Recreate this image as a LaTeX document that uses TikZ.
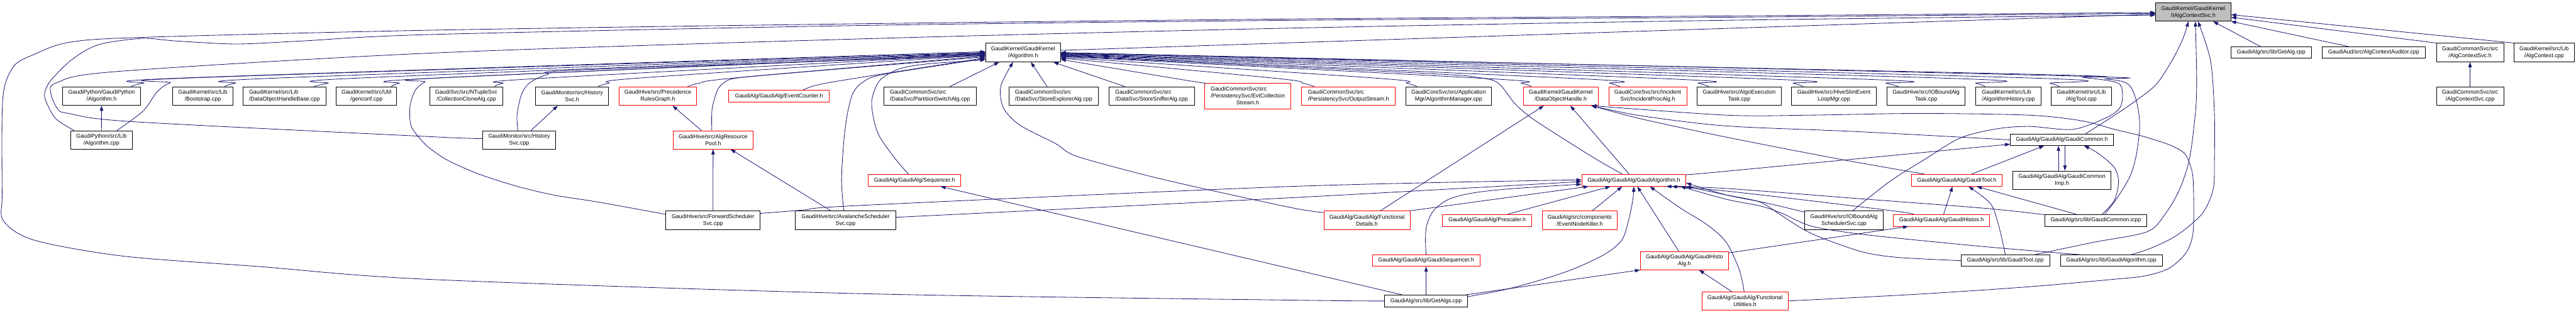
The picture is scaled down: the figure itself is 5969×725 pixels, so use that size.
\documentclass[tikz,border=0pt]{standalone}
\usepackage{fontspec}
\setmainfont{Liberation Sans}
\usetikzlibrary{arrows.meta}
\definecolor{edgeblue}{HTML}{191970}
\definecolor{rootgrey}{HTML}{BFBFBF}
\tikzset{
  nb/.style={draw=black, line width=1.2pt, fill=white, inner sep=0pt, align=center, font=\fontsize{13}{16}\selectfont},
  nr/.style={nb, draw=red},
  nl/.style={nb, align=left},
  nrl/.style={nr, align=left},
  dep/.style={draw=edgeblue, line width=1.2pt, -{Triangle[length=12pt,width=8pt]}},
}
\begin{document}
\begin{tikzpicture}[x=1pt,y=-1pt]
\useasboundingbox (0,0) rectangle (5969,725);
% ---------------- nodes ----------------
\node[nb, fill=rootgrey, minimum width=174pt, minimum height=42pt] (R) at (5082,28) {GaudiKernel/GaudiKernel\\/IAlgContextSvc.h};
% row 1
\node[nb, minimum width=173pt, minimum height=43pt] (A) at (2370.5,121.8) {GaudiKernel/GaudiKernel\\/Algorithm.h};
\node[nb, minimum width=185.6pt, minimum height=27pt] (GetAlg) at (5262.7,121.8) {GaudiAlg/src/lib/GetAlg.cpp};
\node[nb, minimum width=240pt, minimum height=27pt] (AlgCtxAud) at (5500.2,121.8) {GaudiAud/src/AlgContextAuditor.cpp};
\node[nb, minimum width=155.6pt, minimum height=43pt] (AlgCtxSvcH) at (5723.5,121.8) {GaudiCommonSvc/src\\/AlgContextSvc.h};
\node[nb, minimum width=139pt, minimum height=43pt] (AlgCtxCpp) at (5895,121.8) {GaudiKernel/src/Lib\\/AlgContext.cpp};
% row 2
\node[nb, minimum width=155.6pt, minimum height=43pt] (AlgCtxSvcCpp) at (5723.5,222.8) {GaudiCommonSvc/src\\/AlgContextSvc.cpp};
\node[nb, minimum width=180pt, minimum height=43pt] (PyAlgH) at (235.4,222.8) {GaudiPython/GaudiPython\\/Algorithm.h};
\node[nb, minimum width=139pt, minimum height=43pt] (Bootstrap) at (470,222.8) {GaudiKernel/src/Lib\\/Bootstrap.cpp};
\node[nl, minimum width=192pt, minimum height=43pt] (DOHB) at (659.1,222.8) {GaudiKernel/src/Lib\\/DataObjectHandleBase.cpp};
\node[nb, minimum width=139.7pt, minimum height=43pt] (genconf) at (849.2,222.8) {GaudiKernel/src/Util\\/genconf.cpp};
\node[nb, minimum width=169.7pt, minimum height=43pt] (CollClone) at (1080.4,222.8) {GaudiSvc/src/NTupleSvc\\/CollectionCloneAlg.cpp};
\node[nb, minimum width=169pt, minimum height=43pt] (HistSvcH) at (1325.6,222.8) {GaudiMonitor/src/History\\Svc.h};
\node[nr, minimum width=180pt, minimum height=43pt] (PrecRules) at (1524.3,222.8) {GaudiHive/src/Precedence\\RulesGraph.h};
\node[nr, minimum width=232.8pt, minimum height=27.7pt] (EventCounter) at (1805.2,222.8) {GaudiAlg/GaudiAlg/EventCounter.h};
\node[nl, minimum width=214.3pt, minimum height=43pt] (PartSwitch) at (2155,222.8) {GaudiCommonSvc/src\\/DataSvc/PartitionSwitchAlg.cpp};
\node[nl, minimum width=208pt, minimum height=43pt] (StoreExplorer) at (2441.4,222.8) {GaudiCommonSvc/src\\/DataSvc/StoreExplorerAlg.cpp};
\node[nl, minimum width=197.7pt, minimum height=43pt] (StoreSniffer) at (2668.4,222.8) {GaudiCommonSvc/src\\/DataSvc/StoreSnifferAlg.cpp};
\node[nr, minimum width=199.6pt, minimum height=59pt] (EvtCollStream) at (2891.3,222.8) {\begin{tabular}{@{}l@{}}GaudiCommonSvc/src\\/PersistencySvc/EvtCollection\\\multicolumn{1}{@{}c@{}}{Stream.h}\end{tabular}};
\node[nrl, minimum width=218pt, minimum height=43pt] (OutputStream) at (3124.4,222.8) {GaudiCommonSvc/src\\/PersistencySvc/OutputStream.h};
\node[nb, minimum width=197.7pt, minimum height=43pt] (AlgManager) at (3356.6,222.8) {GaudiCoreSvc/src/Application\\Mgr/AlgorithmManager.cpp};
\node[nr, minimum width=174pt, minimum height=43pt] (DOH) at (3616.4,222.8) {GaudiKernel/GaudiKernel\\/DataObjectHandle.h};
\node[nr, minimum width=180.5pt, minimum height=43pt] (IncidentProc) at (3818,222.8) {GaudiCoreSvc/src/Incident\\Svc/IncidentProcAlg.h};
\node[nb, minimum width=195.2pt, minimum height=43pt] (AlgoExecTask) at (4030,222.8) {GaudiHive/src/AlgoExecution\\Task.cpp};
\node[nb, minimum width=196.5pt, minimum height=43pt] (HiveSlim) at (4249.4,222.8) {GaudiHive/src/HiveSlimEvent\\LoopMgr.cpp};
\node[nb, minimum width=181pt, minimum height=43pt] (IOBoundTask) at (4463,222.8) {GaudiHive/src/IOBoundAlg\\Task.cpp};
\node[nl, minimum width=151.8pt, minimum height=43pt] (AlgHistory) at (4653.7,222.8) {GaudiKernel/src/Lib\\/AlgorithmHistory.cpp};
\node[nb, minimum width=139pt, minimum height=43pt] (AlgToolCpp) at (4822.7,222.8) {GaudiKernel/src/Lib\\/AlgTool.cpp};
% row 3
\node[nb, minimum width=142.2pt, minimum height=42pt] (PyAlgCpp) at (235,324.3) {GaudiPython/src/Lib\\/Algorithm.cpp};
\node[nb, minimum width=169pt, minimum height=42pt] (HistSvcCpp) at (1203.1,324.3) {GaudiMonitor/src/History\\Svc.cpp};
\node[nr, minimum width=186.2pt, minimum height=42pt] (AlgResPool) at (1652.4,324.3) {GaudiHive/src/AlgResource\\Pool.h};
\node[nb, minimum width=239pt, minimum height=26pt] (GaudiCommonH) at (4777.8,324.3) {GaudiAlg/GaudiAlg/GaudiCommon.h};
% row 4
\node[nr, minimum width=215pt, minimum height=27.4pt] (Sequencer) at (2119,418) {GaudiAlg/GaudiAlg/Sequencer.h};
\node[nr, minimum width=241pt, minimum height=27.4pt] (GaudiAlgorithmH) at (3785.8,418) {GaudiAlg/GaudiAlg/GaudiAlgorithm.h};
\node[nr, minimum width=211pt, minimum height=27.4pt] (GaudiToolH) at (4534.2,418) {GaudiAlg/GaudiAlg/GaudiTool.h};
\node[nb, minimum width=227.7pt, minimum height=43pt] (GaudiCommonImp) at (4777.8,417.8) {GaudiAlg/GaudiAlg/GaudiCommon\\Imp.h};
% row 5
\node[nb, minimum width=218.8pt, minimum height=43pt] (ForwardSched) at (1652.1,510.8) {GaudiHive/src/ForwardScheduler\\Svc.cpp};
\node[nb, minimum width=232.2pt, minimum height=43pt] (AvalancheSched) at (1959.2,510.8) {GaudiHive/src/AvalancheScheduler\\Svc.cpp};
\node[nr, minimum width=199.6pt, minimum height=43pt] (FunctionalDetails) at (3167.4,510.8) {GaudiAlg/GaudiAlg/Functional\\Details.h};
\node[nr, minimum width=206.6pt, minimum height=27.4pt] (Prescaler) at (3445.8,510.8) {GaudiAlg/GaudiAlg/Prescaler.h};
\node[nr, minimum width=174pt, minimum height=43pt] (EventNodeKiller) at (3660.4,510.8) {GaudiAlg/src/components\\/EventNodeKiller.h};
\node[nb, minimum width=181.7pt, minimum height=43pt] (IOBoundSched) at (4272.7,510.8) {GaudiHive/src/IOBoundAlg\\SchedulerSvc.cpp};
\node[nr, minimum width=223.2pt, minimum height=27.4pt] (GaudiHistos) at (4498.7,510.8) {GaudiAlg/GaudiAlg/GaudiHistos.h};
\node[nb, minimum width=236.6pt, minimum height=27.4pt] (GaudiCommonIcpp) at (4856.2,510.8) {GaudiAlg/src/lib/GaudiCommon.icpp};
% row 6
\node[nr, minimum width=249.4pt, minimum height=26pt] (GaudiSequencer) at (3304.5,604.3) {GaudiAlg/GaudiAlg/GaudiSequencer.h};
\node[nr, minimum width=204pt, minimum height=42pt] (GaudiHistoAlg) at (3903,604.3) {GaudiAlg/GaudiAlg/GaudiHisto\\Alg.h};
\node[nb, minimum width=205.4pt, minimum height=26pt] (GaudiToolCpp) at (4646.7,604.3) {GaudiAlg/src/lib/GaudiTool.cpp};
\node[nb, minimum width=236.3pt, minimum height=26pt] (GaudiAlgorithmCpp) at (4892.3,604.3) {GaudiAlg/src/lib/GaudiAlgorithm.cpp};
% row 7
\node[nb, minimum width=192pt, minimum height=27pt] (GetAlgs) at (3304.5,697.8) {GaudiAlg/src/lib/GetAlgs.cpp};
\node[nr, minimum width=199pt, minimum height=42.7pt] (FunctionalUtilities) at (4043.4,697.8) {GaudiAlg/GaudiAlg/Functional\\Utilities.h};

% ---------------- edges into root ----------------
\draw[dep] ([yshift=5pt]A.east) -- ([yshift=-5pt]R.west);
\draw[dep] plot[smooth, tension=0.5] coordinates {(GetAlgs.west) (3000,696) (2000,681) (1000,648) (600,618) (287,594) (80,557) (8,512) (5,450) (5,260) (12,195) (35,150) (77,127) (156,99) (319,87) (1000,70) (2000,55) (3000,44) (4000,37) ([yshift=-1pt]R.west)};
\draw[dep] plot[smooth, tension=0.5] coordinates {([xshift=-63pt]PyAlgCpp.north) (131,277) (112,247) (103,220) (115,190) (156,147) (198,117) (242,100) (332,89) (408,95) (548,102) (700,95) (1000,80) (2000,59) (3000,47) (4000,40) ([yshift=-3pt]R.west)};
\draw[dep] plot[smooth, tension=0.5] coordinates {([yshift=3pt]HistSvcCpp.west) (1000,317) (306,282) (159,263) (134,253) (118,217) (131,192) (268,166) (1000,123) (2000,90) (3000,65) (4000,47) ([yshift=-7pt]R.west)};
\draw[dep] ([xshift=-25pt]GetAlg.north) -- ([xshift=46pt]R.south);
\draw[dep] ([xshift=-59pt]AlgCtxAud.north) -- (R.south east);
\draw[dep] (AlgCtxSvcH.north west) -- ([yshift=-12pt]R.east);
\draw[dep] (AlgCtxCpp.north west) -- ([yshift=-6pt]R.east);
\draw[dep] (AlgCtxSvcCpp) -- (AlgCtxSvcH);
\draw[dep] plot[smooth, tension=0.5] coordinates {([xshift=54pt]GaudiCommonH.north) (4880,280) (4940,240) (4995,197) (5033,140) (5058,90) ([xshift=-11pt]R.south)};
\draw[dep] plot[smooth, tension=0.5] coordinates {([xshift=67pt]GaudiToolCpp.north) (4850,562) (4976,537) (5020,492) (5049,442) (5068,390) (5078,340) (5088,250) (5090,180) ([xshift=5pt]R.south)};
\draw[dep] plot[smooth, tension=0.5] coordinates {([xshift=45pt]GaudiAlgorithmCpp.north) (4985,575) (5045,545) (5103,495) (5128,440) (5131,380) (5131,260) (5122,140) ([xshift=11pt]R.south)};

% ---------------- edges into Algorithm.h (left) ----------------
\draw[dep] plot[smooth, tension=0.5] coordinates {([xshift=68pt]PyAlgH.north) (332,193) (446,180) ([yshift=2pt]A.west)};
\draw[dep] plot[smooth, tension=0.5] coordinates {([xshift=36pt]PyAlgCpp.north) (332,257) (364,213) (395,192) (460,180) (A.west)};
\draw[dep] plot[smooth, tension=0.5] coordinates {([xshift=50pt]Bootstrap.north) (545,193) (640,181) ([yshift=-1pt]A.west)};
\draw[dep] plot[smooth, tension=0.5] coordinates {([xshift=68pt]DOHB.north) (760,193) (830,181) ([yshift=-2pt]A.west)};
\draw[dep] plot[smooth, tension=0.5] coordinates {([xshift=57pt]genconf.north) (925,193) (990,182) ([yshift=-3pt]A.west)};
\draw[dep] plot[smooth, tension=0.5] coordinates {([yshift=14pt]ForwardSched.west) (1383,468) (1287,453) (1198,432) (1108,403) (1038,372) (1000,347) (979,328) (953,293) (950,247) (962,210) (985,190) (1030,180) ([yshift=-4pt]A.west)};
\draw[dep] plot[smooth, tension=0.5] coordinates {([xshift=65pt]CollClone.north) (1165,193) (1230,183) ([yshift=-5pt]A.west)};
\draw[dep] plot[smooth, tension=0.5] coordinates {([xshift=60pt]HistSvcH.north) (1410,193) (1480,181) ([yshift=-6pt]A.west)};
\draw[dep] plot[smooth, tension=0.5] coordinates {([xshift=-3pt]HistSvcCpp.north) (1198,267) (1208,220) (1226,193) (1268,173) (1350,162) ([yshift=-7pt]A.west)};
\draw[dep] plot[smooth, tension=0.5] coordinates {([xshift=69pt]PrecRules.north) (1620,193) (1700,181) ([yshift=-8pt]A.west)};
\draw[dep] plot[smooth, tension=0.5] coordinates {([xshift=-3pt]AlgResPool.north) (1650,253) (1662,210) (1676,193) (1701,182) (1800,172) ([yshift=-10pt]A.west)};
\draw[dep] plot[smooth, tension=0.5] coordinates {([xshift=56pt]EventCounter.north) (1890,198) (1960,185) ([yshift=-12pt]A.west)};
\draw[dep] plot[smooth, tension=0.5] coordinates {([xshift=-4pt]AvalancheSched.north) (1950,420) (1955,330) (1963,267) (1976,217) (2000,190) (2050,172) ([yshift=-14pt]A.west)};
\draw[dep] plot[smooth, tension=0.5] coordinates {([xshift=-14pt]Sequencer.north) (2076,370) (2040,320) (2026,283) (2020,233) (2038,187) (2083,160) (2150,148) ([yshift=-17pt]A.west)};
\draw[dep] ([xshift=46pt]PartSwitch.north) -- ([xshift=-55pt]A.south);
\draw[dep] plot[smooth, tension=0.5] coordinates {([yshift=18pt]FunctionalDetails.west) (3000,483) (2800,440) (2650,405) (2494,362) (2446,333) (2363,290) (2325,250) (2319,200) ([xshift=-23pt]A.south)};
\draw[dep] ([xshift=-15pt]StoreExplorer.north) -- ([xshift=18pt]A.south);
\draw[dep] ([xshift=-62pt]StoreSniffer.north) -- ([xshift=70pt]A.south);

% ---------------- edges into Algorithm.h (right) ----------------
\draw[dep] plot[smooth, tension=0.5] coordinates {(EvtCollStream.north west) (2753,187) ([yshift=-16pt]A.east)};
\draw[dep] plot[smooth, tension=0.5] coordinates {([xshift=-79pt]OutputStream.north) (3020,193) (2960,182) ([yshift=-13pt]A.east)};
\draw[dep] plot[smooth, tension=0.5] coordinates {([xshift=-73pt]AlgManager.north) (3260,193) (3200,182) ([yshift=-11pt]A.east)};
\draw[dep] plot[smooth, tension=0.5] coordinates {([xshift=-68pt]DOH.north) (3525,193) (3460,183) ([yshift=-9pt]A.east)};
\draw[dep] plot[smooth, tension=0.5] coordinates {([xshift=-65pt]IncidentProc.north) (3730,193) (3670,183) ([yshift=-7pt]A.east)};
\draw[dep] plot[smooth, tension=0.5] coordinates {([xshift=-70pt]AlgoExecTask.north) (3935,193) (3870,183) ([yshift=-6pt]A.east)};
\draw[dep] plot[smooth, tension=0.5] coordinates {([xshift=-71pt]HiveSlim.north) (4155,193) (4090,183) ([yshift=-5pt]A.east)};
\draw[dep] plot[smooth, tension=0.5] coordinates {([xshift=-64pt]IOBoundTask.north) (4370,193) (4300,183) ([yshift=-4pt]A.east)};
\draw[dep] plot[smooth, tension=0.5] coordinates {([xshift=-54pt]AlgHistory.north) (4578,193) (4500,181) ([yshift=-3pt]A.east)};
\draw[dep] plot[smooth, tension=0.5] coordinates {([xshift=-51pt]AlgToolCpp.north) (4750,193) (4680,180) ([yshift=-1pt]A.east)};
\draw[dep] plot[smooth, tension=0.5] coordinates {([xshift=-27pt]GaudiAlgorithmH.north) (3700,370) (3620,320) (3548,273) (3510,240) (3472,193) (3427,180) (3300,170) ([yshift=-8pt]A.east)};
\draw[dep] plot[smooth, tension=0.5] coordinates {([xshift=20pt]IOBoundSched.north) (4380,420) (4459,370) (4542,320) (4625,299) (4701,293) (4803,300) (4880,273) (4912,250) (4918,217) (4906,192) (4829,180) (4700,172) ([yshift=-2pt]A.east)};
\draw[dep] plot[smooth, tension=0.5] coordinates {([xshift=21pt]GaudiCommonIcpp.north) (4905,460) (4935,410) (4950,360) (4958,290) (4950,233) (4931,195) (4880,183) (4750,175) (A.east)};

% ---------------- edges into DataObjectHandle.h ----------------
\draw[dep] ([xshift=31pt]FunctionalDetails.north) -- ([xshift=-39pt]DOH.south);
\draw[dep] plot[smooth, tension=0.5] coordinates {([xshift=-11pt]GaudiAlgorithmH.north) (3733,355) ([xshift=22pt]DOH.south)};
\draw[dep] plot[smooth, tension=0.5] coordinates {(GaudiCommonH.west) (4300,305) (4000,292) (3800,268) ([xshift=-17pt]DOH.south east)};
\draw[dep] plot[smooth, tension=0.5] coordinates {([xshift=-75pt]GaudiToolH.north) (4268,370) (4000,318) (3800,275) ([xshift=-17pt]DOH.south east)};
\draw[dep] plot[smooth, tension=0.5] coordinates {(FunctionalUtilities.east) (4446,682) (4700,665) (4893,648) (4969,640) (5026,622) (5066,585) (5082,535) (5082,420) (5074,380) (5061,355) (5030,337) (4969,317) (4900,300) (4823,280) (4701,267) (4446,263) (4191,267) (4000,267) ([xshift=-17pt]DOH.south east)};

% ---------------- edges into GaudiAlgorithm.h ----------------
\draw[dep] plot[smooth, tension=0.5] coordinates {([yshift=16pt]ForwardSched.east) (1861,487) (2000,476) (3000,432) ([yshift=1pt]GaudiAlgorithmH.west)};
\draw[dep] plot[smooth, tension=0.5] coordinates {([yshift=7pt]AvalancheSched.east) (3000,458) ([yshift=-3pt]GaudiAlgorithmH.west)};
\draw[dep] plot[smooth, tension=0.5] coordinates {(GaudiSequencer.north) (3303,555) (3306,522) (3322,488) (3357,462) (3415,447) (3510,437) ([yshift=-9pt]GaudiAlgorithmH.west)};
\draw[dep] (FunctionalDetails.north east) -- ([xshift=-105pt]GaudiAlgorithmH.south);
\draw[dep] ([xshift=48pt]Prescaler.north) -- ([xshift=-54pt]GaudiAlgorithmH.south);
\draw[dep] ([xshift=29pt]EventNodeKiller.north) -- ([xshift=-27pt]GaudiAlgorithmH.south);
\draw[dep] plot[smooth, tension=0.5] coordinates {([yshift=10pt]GetAlgs.east) (3485,672) (3574,648) (3650,622) (3721,588) (3759,555) (3775,505) (3784,460) (GaudiAlgorithmH.south)};
\draw[dep] ([xshift=-13pt]GaudiHistoAlg.north) -- ([xshift=8pt]GaudiAlgorithmH.south);
\draw[dep] plot[smooth, tension=0.5] coordinates {([xshift=-2pt]FunctionalUtilities.north) (4030,625) (4000,562) (3957,522) (3893,482) ([xshift=37pt]GaudiAlgorithmH.south)};
\draw[dep] plot[smooth, tension=0.5] coordinates {([yshift=19pt]IOBoundSched.west) (4090,470) (4000,452) ([yshift=-6pt]GaudiAlgorithmH.east)};
\draw[dep] plot[smooth, tension=0.5] coordinates {([xshift=-64pt]GaudiHistos.north) (4395,490) (4200,466) (4000,443) ([xshift=88pt]GaudiAlgorithmH.south)};
\draw[dep] plot[smooth, tension=0.5] coordinates {([yshift=13pt]GaudiCommonIcpp.west) (4600,483) (4300,460) (4000,437) ([xshift=75pt]GaudiAlgorithmH.south)};
\draw[dep] plot[smooth, tension=0.5] coordinates {(GaudiToolCpp.west) (4400,597) (4319,585) (4230,555) (4179,532) (4121,495) (4077,468) (4000,452) (GaudiAlgorithmH.south east)};
\draw[dep] plot[smooth, tension=0.5] coordinates {([xshift=-69pt]GaudiAlgorithmCpp.north) (4600,572) (4330,545) (4200,525) (4130,495) (4080,478) (4000,462) ([xshift=108pt]GaudiAlgorithmH.south)};

% ---------------- other edges ----------------
\draw[dep] ([xshift=-5pt]GetAlgs.north east) -- (GaudiHistoAlg.south west);
\draw[dep] ([xshift=-31pt]FunctionalUtilities.north) -- ([xshift=34pt]GaudiHistoAlg.south);
\draw[dep] ([yshift=18pt]GaudiHistoAlg.east) -- ([xshift=-77pt]GaudiHistos.south);
\draw[dep] ([xshift=5pt]GaudiHistos.north) -- ([xshift=-10pt]GaudiToolH.south);
\draw[dep] plot[smooth, tension=0.5] coordinates {(GaudiToolCpp.north) (4631,522) (4612,472) ([xshift=27pt]GaudiToolH.south)};
\draw[dep] ([xshift=-46pt]GaudiCommonIcpp.north) -- ([xshift=46pt]GaudiToolH.south);
\draw[dep] ([xshift=34pt]GaudiToolH.north) -- ([xshift=-41pt]GaudiCommonH.south);
\draw[dep] plot[smooth, tension=0.5] coordinates {([yshift=13pt]GaudiAlgorithmH.east) (4000,397) ([yshift=-10pt]GaudiCommonH.west)};
\draw[dep] ([xshift=-8pt]GaudiCommonImp.north) -- ([xshift=-8pt]GaudiCommonH.south);
\draw[dep] ([xshift=7pt]GaudiCommonH.south) -- ([xshift=7pt]GaudiCommonImp.north);
\draw[dep] plot[smooth, tension=0.5] coordinates {([xshift=15pt]GaudiCommonIcpp.north) (4899,465) (4909,422) (4899,388) (4861,355) ([xshift=51pt]GaudiCommonH.south)};
\draw[dep] ([xshift=-55pt]GetAlgs.north) -- ([xshift=60pt]Sequencer.south);
\draw[dep] (GetAlgs) -- (GaudiSequencer);
\draw[dep] (ForwardSched) -- (AlgResPool);
\draw[dep] ([xshift=-34pt]AvalancheSched.north) -- ([xshift=40pt]AlgResPool.south);
\draw[dep] ([xshift=-27pt]AlgResPool.north) -- ([xshift=34pt]PrecRules.south);
\draw[dep] ([xshift=27pt]HistSvcCpp.north) -- ([xshift=-33pt]HistSvcH.south);
\draw[dep] (PyAlgCpp) -- (PyAlgH);
\end{tikzpicture}
\end{document}
